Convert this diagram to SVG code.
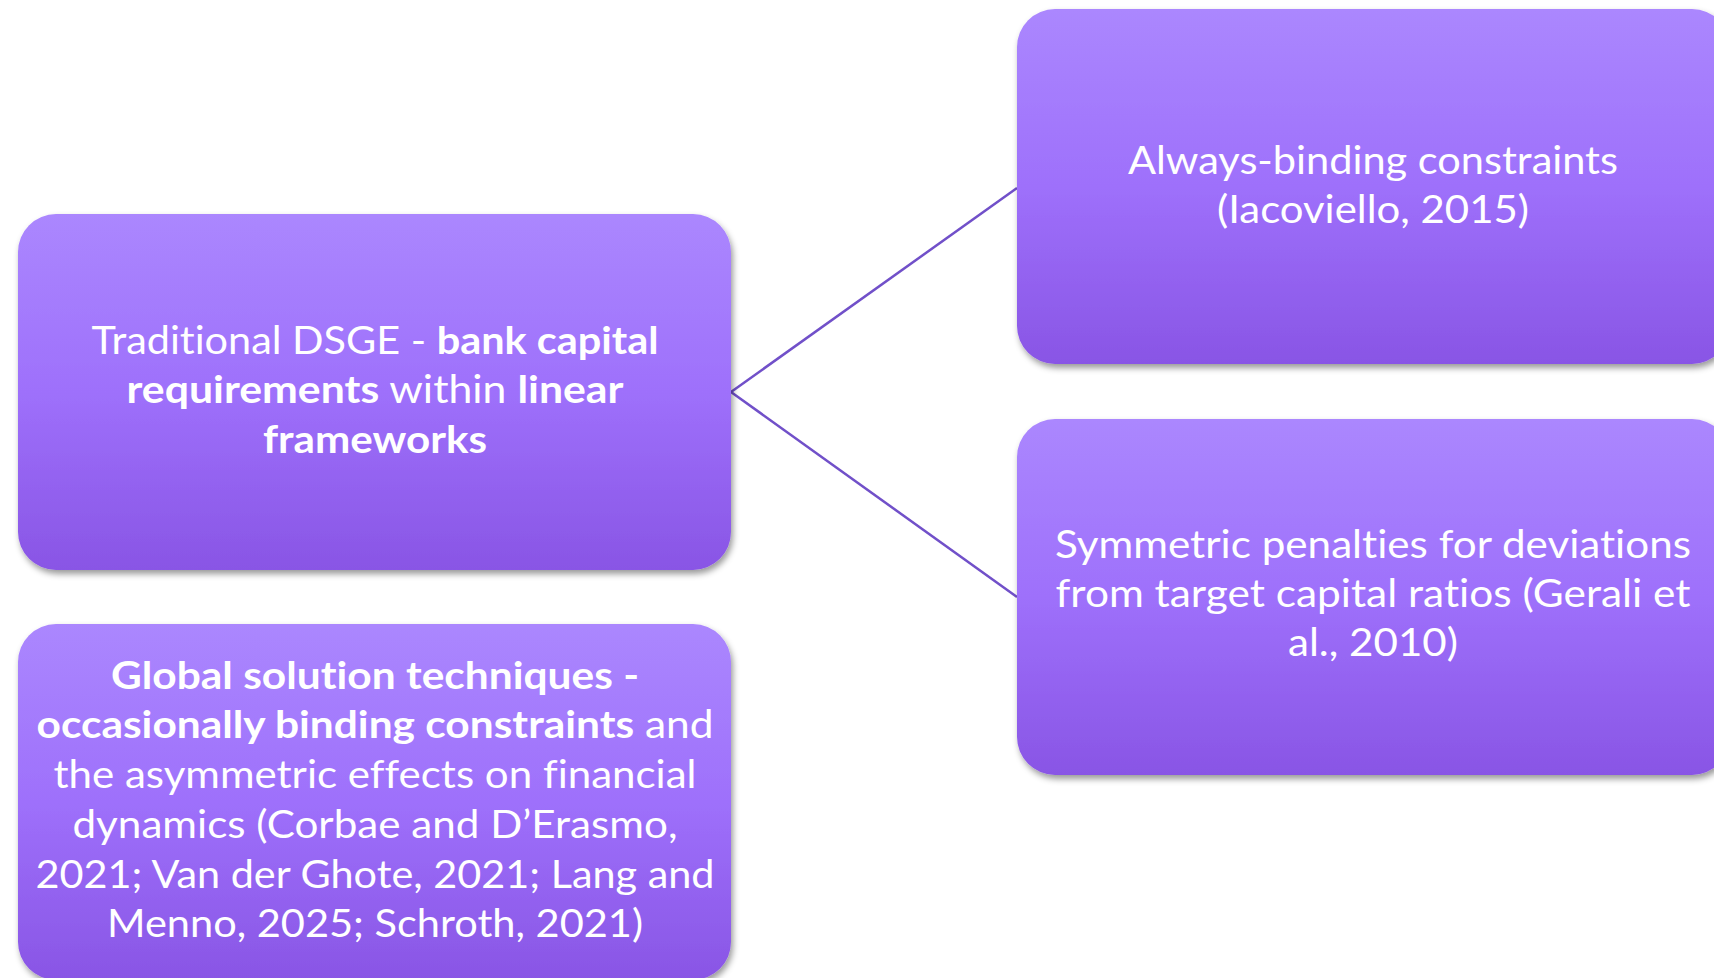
<svg xmlns="http://www.w3.org/2000/svg" width="1714" height="978" viewBox="0 0 1714 978">
<defs>
<linearGradient id="g" x1="0" y1="0" x2="0" y2="1">
<stop offset="0" stop-color="#ab87fe"/>
<stop offset="0.5" stop-color="#9e70fb"/>
<stop offset="1" stop-color="#8955e5"/>
</linearGradient>
<filter id="sh" x="-5%" y="-5%" width="110%" height="115%">
<feDropShadow dx="2" dy="4" stdDeviation="3" flood-color="#000" flood-opacity="0.4"/>
</filter>
</defs>
<style>
.box{fill:url(#g);filter:url(#sh);}
.t{font-family:Lato,"Open Sans","Liberation Sans",sans-serif;font-size:38px;fill:#fff;text-anchor:middle;font-variant-ligatures:none;}
.b{font-weight:bold;}
.c{stroke:#7150c9;stroke-width:2.5;fill:none;}
</style>
<rect width="1714" height="978" fill="#fff"/>
<g id="connectors">
<line class="c" x1="731" y1="392" x2="1017" y2="188"/>
<line class="c" x1="731" y1="392" x2="1017" y2="597"/>
</g>
<g id="node-traditional">
<rect class="box" x="18" y="214" width="713" height="356" rx="38"/>
<text class="t" x="375" y="354" textLength="567" lengthAdjust="spacingAndGlyphs">Traditional DSGE - <tspan class="b">bank capital</tspan></text>
<text class="t" x="375" y="403" textLength="497" lengthAdjust="spacingAndGlyphs"><tspan class="b">requirements</tspan> within <tspan class="b">linear</tspan></text>
<text class="t b" x="375" y="453" textLength="224" lengthAdjust="spacingAndGlyphs">frameworks</text>
</g>
<g id="node-global">
<rect class="box" x="18" y="624" width="713" height="356" rx="38"/>
<text class="t b" x="375" y="689" textLength="528" lengthAdjust="spacingAndGlyphs">Global solution techniques -</text>
<text class="t" x="375" y="738" textLength="677" lengthAdjust="spacingAndGlyphs"><tspan class="b">occasionally binding constraints</tspan> and</text>
<text class="t" x="375" y="788" textLength="643" lengthAdjust="spacingAndGlyphs">the asymmetric effects on financial</text>
<text class="t" x="375" y="838" textLength="605" lengthAdjust="spacingAndGlyphs">dynamics (Corbae and D’Erasmo,</text>
<text class="t" x="375" y="888" textLength="679" lengthAdjust="spacingAndGlyphs">2021; Van der Ghote, 2021; Lang and</text>
<text class="t" x="375" y="937" textLength="536" lengthAdjust="spacingAndGlyphs">Menno, 2025; Schroth, 2021)</text>
</g>
<g id="node-always">
<rect class="box" x="1017" y="9" width="713" height="355" rx="38"/>
<text class="t" x="1373" y="174" textLength="490" lengthAdjust="spacingAndGlyphs">Always-binding constraints</text>
<text class="t" x="1373" y="223" textLength="312" lengthAdjust="spacingAndGlyphs">(Iacoviello, 2015)</text>
</g>
<g id="node-symmetric">
<rect class="box" x="1017" y="419" width="713" height="356" rx="38"/>
<text class="t" x="1373" y="558" textLength="636" lengthAdjust="spacingAndGlyphs">Symmetric penalties for deviations</text>
<text class="t" x="1373" y="607" textLength="635" lengthAdjust="spacingAndGlyphs">from target capital ratios (Gerali et</text>
<text class="t" x="1373" y="656" textLength="170" lengthAdjust="spacingAndGlyphs">al., 2010)</text>
</g>
</svg>
